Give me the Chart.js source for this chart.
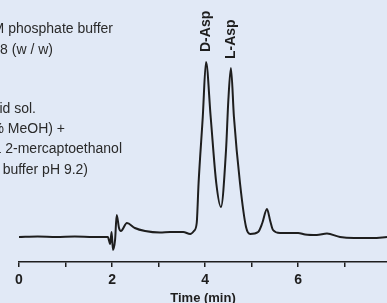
<!DOCTYPE html>
<html lang="en">
<head>
    <meta charset="UTF-8">
    <title>Chromatogram</title>
    <script src="https://cdn.jsdelivr.net/npm/chart.js"></script>
    <style>
        body { margin: 0; background: #e1e9f6; }
        #wrap { width: 387px; height: 303px; }
    </style>
</head>
<body>
    <div id="wrap"><canvas id="chrom" width="387" height="303"></canvas></div>

    <script>
        // Retention time (min) and detector signal
        const times = [0, 0.4, 0.8, 1.2, 1.6, 1.91, 1.96, 1.99, 2.02, 2.065, 2.10, 2.15, 2.19, 2.32, 2.49, 2.71,
                       3.03, 3.25, 3.53, 3.68, 3.76, 3.82, 3.86, 3.95, 4.02, 4.12, 4.24, 4.34, 4.45, 4.50,
                       4.555, 4.62, 4.75, 4.88, 4.97, 5.14, 5.23, 5.33, 5.40, 5.46, 5.61, 6.0, 6.15, 6.4,
                       6.62, 6.9, 7.2, 7.6, 7.91];
        const signal = [0, 0.5, 0, 0.5, 0, 0, -7, 5, -13, -3, 22, 9, 6, 14, 9, 6,
                        4.5, 5, 5, 3, 6, 14, 54, 120, 175, 120, 54, 30, 87, 137,
                        169, 120, 54, 10, 3, 5, 14, 28, 16, 7, 4, 4, 2.5, 2,
                        3.5, 0, -1, -1, 0];
        const peakLabels = [{ t: 4.02, text: "D-Asp", bottom: 52 },
                            { t: 4.56, text: "L-Asp", bottom: 59 }];
        const noteLines = [
            ["M phosphate buffer", 113, 29],
            ["98 (w / w)", 53, 50],
            ["cid sol.", 36, 109],
            ["% MeOH) +", 65, 129],
            ["L 2-mercaptoethanol", 122, 149],
            ["e buffer pH 9.2)", 88, 170]
        ];

        const fontFam = "'Liberation Sans Narrow', 'Liberation Sans', Arial, sans-serif";
        const ink = "#1e1e1e";

        const notes = {
            id: "notes",
            afterDraw(chart) {
                const ctx = chart.ctx;
                const xs = chart.scales.x;
                ctx.save();
                ctx.fillStyle = "#2a2a2a";
                ctx.font = "14px " + fontFam;
                ctx.textAlign = "right";
                ctx.textBaseline = "middle";
                noteLines.forEach(([txt, right, y]) => ctx.fillText(txt, right, y));

                ctx.fillStyle = ink;
                ctx.font = "bold 14px " + fontFam;
                peakLabels.forEach(p => {
                    ctx.save();
                    ctx.translate(xs.getPixelForValue(p.t), p.bottom);
                    ctx.rotate(-Math.PI / 2);
                    ctx.textAlign = "left";
                    ctx.textBaseline = "middle";
                    ctx.fillText(p.text, 0, 0);
                    ctx.restore();
                });
                ctx.restore();
            }
        };

        new Chart(document.getElementById("chrom"), {
            type: "line",
            data: {
                datasets: [{
                    data: times.map((t, i) => ({ x: t, y: signal[i] })),
                    borderColor: ink,
                    borderWidth: 2,
                    pointRadius: 0,
                    cubicInterpolationMode: "monotone",
                    fill: false
                }]
            },
            options: {
                responsive: false,
                animation: false,
                layout: { padding: { left: 19, right: 0, top: 0, bottom: 0 } },
                plugins: { legend: { display: false }, tooltip: { enabled: false } },
                scales: {
                    x: {
                        type: "linear",
                        min: 0,
                        max: 7.91,
                        afterFit: s => { s.height = 41; s.paddingRight = 0; },
                        border: { display: true, color: ink, width: 1.5 },
                        grid: { drawOnChartArea: false, drawTicks: true, tickLength: 5, color: ink, lineWidth: 1.5 },
                        ticks: {
                            stepSize: 1,
                            includeBounds: false,
                            autoSkip: false,
                            maxRotation: 0,
                            padding: 5,
                            color: ink,
                            font: { family: fontFam, size: 14, weight: "bold" },
                            callback: v => (v % 2 === 0 ? v : "")
                        },
                        title: {
                            display: true,
                            text: "Time (min)",
                            color: ink,
                            padding: { top: 0, bottom: -3 },
                            font: { family: fontFam, size: 13, weight: "bold" }
                        }
                    },
                    y: {
                        display: false,
                        min: -25,
                        max: 237
                    }
                }
            },
            plugins: [notes]
        });
    </script>
</body>
</html>
